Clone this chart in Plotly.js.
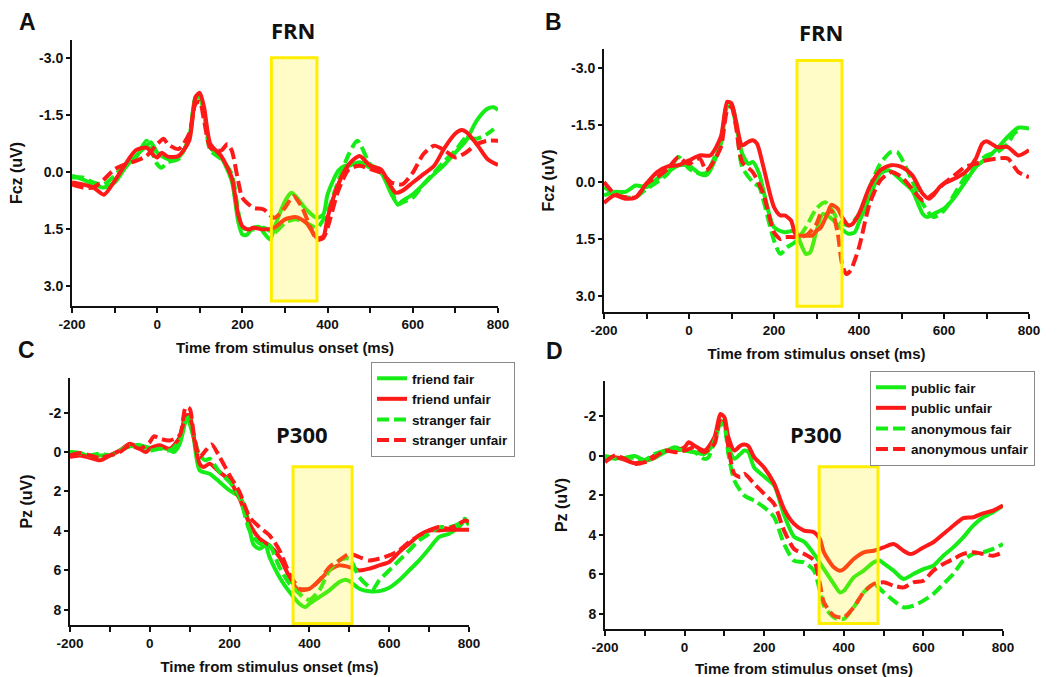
<!DOCTYPE html>
<html>
<head>
<meta charset="utf-8">
<script src="https://cdn.plot.ly/plotly-3.0.1.min.js"></script>
<style>html,body{margin:0;padding:0;background:#fff;}#chart{width:1061px;height:677px;}</style>
</head>
<body>
<div id="chart"></div>
<script>
// ---------- Panel A (Fcz, friend / stranger) ----------
const A_ff_t = [-200,-175,-150,-125,-100,-75,-50,-25,-15,0,25,50,75,90,100,110,125,150,175,190,200,210,225,240,250,265,275,300,315,325,350,375,390,400,425,440,450,475,500,525,550,565,575,600,625,650,675,700,725,750,775,790,800];
const A_ff_v = [0.1,0.2,0.33,0.41,0.28,-0.11,-0.42,-0.69,-0.78,-0.51,-0.34,-0.38,-0.87,-1.97,-2.0,-1.6,-0.64,-0.38,0.24,1.3,1.65,1.66,1.47,1.45,1.6,1.78,1.47,0.77,0.55,0.64,0.99,1.21,1.12,0.59,-0.03,-0.16,-0.16,-0.25,-0.11,0.02,0.59,0.86,0.77,0.59,0.33,0.06,-0.2,-0.51,-0.82,-1.35,-1.66,-1.7,-1.63];
const A_fu_t = [-200,-175,-150,-125,-100,-75,-50,-25,-10,0,10,25,50,75,90,100,110,125,150,175,190,200,215,225,250,275,300,325,350,375,390,400,425,450,475,500,525,550,560,575,600,625,650,675,700,715,725,750,775,800];
const A_fu_v = [0.28,0.33,0.41,0.6,0.24,-0.2,-0.57,-0.64,-0.45,-0.38,-0.5,-0.4,-0.42,-0.82,-1.97,-2.08,-1.7,-0.73,-0.42,0.15,1.12,1.43,1.52,1.47,1.52,1.47,1.25,1.19,1.34,1.74,1.7,1.2,0.33,-0.2,-0.42,-0.16,-0.07,0.41,0.55,0.5,0.28,0.06,-0.16,-0.64,-1.01,-1.1,-1.05,-0.73,-0.34,-0.18];
const A_sf_t = [-200,-175,-150,-125,-100,-75,-50,-25,0,10,25,50,75,90,100,110,125,150,175,190,200,225,250,275,300,325,350,375,400,425,450,470,500,525,550,565,575,600,625,650,675,700,725,750,775,790];
const A_sf_v = [0.15,0.15,0.28,0.33,0.1,-0.2,-0.38,-0.82,-0.2,-0.11,-0.25,-0.34,-0.9,-1.92,-1.97,-1.53,-0.56,-0.34,0.06,1.03,1.47,1.52,1.47,1.6,1.34,1.25,1.34,1.47,1.03,0.24,-0.47,-0.82,-0.2,-0.03,0.5,0.86,0.81,0.68,0.33,0.02,-0.29,-0.56,-0.9,-0.87,-1.0,-1.13];
const A_su_t = [-200,-175,-150,-125,-100,-75,-50,-25,0,15,25,50,75,90,100,110,125,150,165,175,190,200,225,250,275,300,320,340,360,375,390,400,425,450,475,500,525,550,575,600,625,650,675,700,725,750,775,800];
const A_su_v = [0.33,0.41,0.41,0.2,-0.07,-0.2,-0.29,-0.42,-0.73,-0.87,-0.73,-0.6,-1.0,-1.79,-1.85,-1.35,-0.64,-0.56,-0.73,-0.56,0.24,0.68,0.94,0.99,1.21,0.94,0.64,0.94,1.47,1.78,1.74,1.47,0.5,-0.07,-0.16,-0.07,0.02,0.28,0.33,0.02,-0.47,-0.69,-0.56,-0.38,-0.51,-0.73,-0.82,-0.82];

// ---------- Panel B (Fcz, public / anonymous) ----------
const B_pf_t = [-200,-175,-150,-125,-100,-75,-50,-25,0,10,25,40,50,75,90,100,110,125,140,150,165,175,200,225,250,260,275,285,300,315,325,340,350,375,390,400,425,450,470,500,525,550,560,575,600,625,650,675,700,725,750,775,800];
const B_pf_v = [0.35,0.26,0.26,0.09,0.13,-0.09,-0.26,-0.44,-0.44,-0.35,-0.22,-0.18,-0.31,-1.01,-1.98,-1.98,-1.54,-0.75,-0.48,-0.53,-0.22,0.22,1.19,1.32,1.28,1.54,1.89,1.85,1.28,0.84,0.88,1.01,1.14,1.36,1.32,1.06,0.4,-0.22,-0.31,-0.04,0.22,0.84,0.92,0.84,0.7,0.4,0.0,-0.4,-0.62,-0.88,-1.19,-1.43,-1.41];
const B_pu_t = [-200,-175,-150,-125,-100,-75,-50,-25,0,25,50,75,90,100,110,125,140,150,160,175,200,215,225,240,250,260,275,290,300,310,325,335,350,360,375,385,400,425,450,475,500,525,550,565,575,590,600,625,650,675,690,700,725,750,775,800];
const B_pu_v = [0.55,0.35,0.44,0.4,0.04,-0.26,-0.41,-0.44,-0.57,-0.7,-0.7,-1.19,-2.11,-2.07,-1.63,-0.97,-1.06,-1.1,-1.01,-0.4,0.66,0.88,0.88,1.01,1.36,1.41,1.41,1.41,1.28,1.2,0.85,0.6,0.7,0.92,1.14,1.1,0.84,0.13,-0.31,-0.44,-0.4,-0.18,0.31,0.44,0.35,0.13,0.04,-0.09,-0.26,-0.62,-1.01,-1.07,-0.92,-0.92,-0.7,-0.84];
const B_af_t = [-200,-175,-150,-125,-100,-75,-50,-25,0,25,40,50,75,90,100,110,125,150,165,175,200,215,230,250,275,300,320,340,350,375,400,425,450,475,490,500,525,550,575,600,625,650,675,700,725,750,765,775];
const B_af_v = [0.13,0.31,0.4,0.4,0.18,0.0,-0.22,-0.66,-0.35,-0.22,-0.24,-0.4,-1.1,-2.02,-2.02,-1.63,-0.4,0.0,0.13,0.48,1.54,1.89,1.72,1.58,1.19,0.7,0.53,0.79,1.01,1.14,0.84,0.13,-0.48,-0.79,-0.79,-0.62,-0.04,0.57,0.92,0.75,0.31,-0.13,-0.44,-0.7,-0.79,-1.01,-1.28,-1.36];
const B_au_t = [-200,-175,-150,-125,-100,-75,-50,-25,-10,0,25,40,50,75,90,100,110,125,150,175,200,215,225,250,275,300,310,320,335,350,360,370,380,400,425,450,475,500,525,550,575,600,625,650,675,700,725,750,775,800];
const B_au_v = [0.0,0.31,0.4,0.4,0.04,-0.13,-0.35,-0.66,-0.53,-0.48,-0.62,-0.31,-0.4,-0.92,-1.89,-1.98,-1.5,-0.53,-0.26,0.31,1.32,1.5,1.45,1.45,1.41,1.1,0.84,0.88,0.75,1.36,2.15,2.42,2.33,1.72,0.57,-0.04,-0.26,-0.13,0.18,0.48,0.31,0.04,-0.18,-0.4,-0.48,-0.57,-0.62,-0.62,-0.26,-0.13];

// ---------- Panel C (Pz, friend / stranger) ----------
const C_ff_t = [-200,-175,-150,-125,-100,-75,-50,-25,0,25,50,60,75,90,95,100,110,125,150,175,200,225,240,250,260,275,290,300,325,350,375,390,400,425,450,475,490,500,525,550,575,600,625,650,675,700,725,750,775,790,800];
const C_ff_v = [0.0,0.05,0.22,0.17,0.17,-0.08,-0.29,-0.34,-0.22,-0.22,-0.12,0.0,-0.42,-1.61,-1.78,-1.44,-0.7,0.93,1.1,1.52,1.95,2.28,2.9,3.9,4.7,4.91,4.74,5.33,6.35,7.1,7.7,7.87,7.7,7.36,7.02,6.6,6.48,6.55,6.94,7.07,7.06,6.89,6.51,6.01,5.5,4.91,4.31,4.15,3.81,3.47,3.72];
const C_fu_t = [-200,-175,-150,-125,-100,-75,-50,-25,-10,0,25,50,75,90,100,110,125,135,150,175,200,225,250,275,300,325,350,365,375,400,425,450,475,500,525,550,575,600,625,650,675,700,725,750,775,800];
const C_fu_v = [0.25,0.17,0.29,0.42,0.17,-0.08,-0.42,-0.17,0.0,-0.17,-0.34,-0.17,-0.76,-1.86,-1.86,-0.8,0.59,0.76,0.59,1.02,1.44,2.37,3.64,4.4,4.74,5.33,6.35,6.85,7.02,6.94,6.51,6.01,5.75,5.84,6.01,5.92,5.75,5.58,5.08,4.65,4.23,3.98,3.98,3.94,3.94,3.94];
const C_sf_t = [-200,-175,-150,-125,-100,-75,-50,-25,0,25,50,75,90,100,110,125,140,150,175,200,225,250,275,300,325,350,375,390,400,425,450,475,500,525,550,560,575,600,625,650,675,700,725,750,775,790,800];
const C_sf_v = [0.0,0.08,0.17,0.08,0.17,-0.08,-0.34,-0.34,-0.08,-0.17,-0.08,-0.59,-1.61,-1.78,-0.8,0.17,0.42,0.34,1.02,1.52,2.28,3.98,4.65,4.74,5.84,6.68,7.19,7.44,7.5,7.02,6.01,5.5,5.41,6.35,6.85,6.94,6.51,6.01,5.5,4.99,4.48,4.15,3.81,3.81,3.64,3.38,3.67];
const C_su_t = [-200,-175,-150,-125,-100,-75,-50,-25,0,10,25,50,75,90,100,110,125,140,155,175,200,225,250,275,300,325,350,365,375,400,425,450,475,500,525,550,575,600,625,650,675,700,725,750,775,790,800];
const C_su_v = [0.17,0.05,0.17,0.29,0.17,0.0,-0.34,-0.17,-0.51,-0.8,-0.68,-0.59,-0.85,-2.28,-2.2,-0.93,0.25,-0.08,-0.38,0.25,1.18,2.03,3.3,3.81,4.23,4.99,6.18,6.68,6.94,6.94,6.51,5.84,5.5,5.16,5.33,5.5,5.41,5.25,4.99,4.57,4.23,3.98,3.81,3.89,3.64,3.47,3.55];

// ---------- Panel D (Pz, public / anonymous) ----------
const D_pf_t = [-200,-175,-150,-125,-100,-75,-50,-25,0,25,50,75,90,100,110,125,140,150,160,175,200,225,250,275,300,325,350,375,390,400,425,450,475,490,500,525,550,575,600,625,650,675,700,725,750,775,800];
const D_pf_v = [0.0,0.1,0.1,0.0,0.24,0.1,-0.19,-0.44,-0.27,-0.19,-0.1,-0.69,-1.79,-1.62,-0.52,0.15,-0.1,-0.27,-0.2,0.6,1.05,1.5,3.0,4.1,4.35,4.97,5.74,6.5,6.92,6.84,6.16,5.82,5.4,5.31,5.45,5.82,6.24,5.99,5.74,5.57,5.06,4.64,4.13,3.54,3.11,2.86,2.52];
const D_pu_t = [-200,-175,-150,-125,-100,-75,-50,-25,0,10,25,50,75,90,100,110,125,140,150,160,175,200,225,250,275,300,325,340,350,375,390,400,425,450,475,500,525,550,565,575,600,625,650,675,700,725,750,775,800];
const D_pu_v = [0.24,0.07,0.2,0.37,0.24,-0.02,-0.27,-0.27,-0.44,-0.69,-0.52,-0.27,-0.95,-2.13,-1.96,-0.95,-0.27,-0.52,-0.58,-0.5,0.07,0.6,1.4,2.7,3.45,3.79,3.87,4.21,4.89,5.65,5.82,5.74,5.23,4.89,4.81,4.64,4.47,4.81,4.97,4.94,4.64,4.38,3.96,3.54,3.15,3.11,2.91,2.77,2.52];
const D_af_t = [-200,-175,-150,-125,-100,-75,-50,-25,0,25,50,60,75,90,100,110,125,150,175,200,225,250,275,300,325,340,350,375,400,425,450,475,500,525,550,575,600,625,650,675,700,725,750,775,800];
const D_af_v = [0.03,0.15,0.1,0.1,0.2,-0.1,-0.27,-0.36,-0.27,-0.19,0.15,0.07,-0.78,-1.62,-1.46,-0.1,1.25,2.01,2.27,2.61,3.11,4.47,5.31,5.4,5.82,6.84,7.6,8.19,8.27,7.68,6.92,6.5,6.92,7.34,7.68,7.6,7.34,7.0,6.5,5.99,5.31,4.97,4.89,4.72,4.47];
const D_au_t = [-200,-175,-150,-125,-100,-75,-50,-25,0,25,50,75,90,100,110,125,140,150,175,200,225,250,275,300,325,340,350,375,400,425,450,475,500,525,550,575,600,625,650,675,700,725,750,775,800];
const D_au_v = [0.32,-0.02,0.15,0.41,0.32,0.07,-0.27,-0.19,-0.27,-0.44,-0.19,-0.61,-1.96,-1.79,-0.44,0.91,1.08,0.91,1.42,1.93,2.44,3.79,4.72,4.97,5.31,6.5,7.43,8.1,8.19,7.68,6.92,6.5,6.41,6.58,6.67,6.41,6.33,5.82,5.48,5.23,4.97,4.89,4.97,5.06,4.89];

// ---------- labels & analysis windows ----------
const legendC = ['friend fair','friend unfair','stranger fair','stranger unfair'];
const legendD = ['public fair','public unfair','anonymous fair','anonymous unfair'];
const xTickVals = [-200,-100,0,100,200,300,400,500,600,700,800];
const xTickText = ['-200','','0','','200','','400','','600','','800'];
const fcTickVals = [-3,-1.5,0,1.5,3];
const fcTickText = ['-3.0','-1.5','0.0','1.5','3.0'];
const pzTickVals = [-2,0,2,4,6,8];
const pzTickText = ['-2','0','2','4','6','8'];
const winA = [268,375,-3.0,3.4];
const winB = [254,360,-3.2,3.27];
const winC = [359,507,0.75,8.7];
const winD = [338,486,0.55,8.5];

const GREEN = '#16ec16', RED = '#ff1a1a';
const W = 1061, H = 677;

function tr(t, v, name, color, dashed, n, legend, show) {
  return {
    x: t, y: v, name: name, type: 'scatter', mode: 'lines',
    xaxis: n === 1 ? 'x' : 'x' + n, yaxis: n === 1 ? 'y' : 'y' + n,
    line: {color: color, width: 4, shape: 'spline', smoothing: 0.7, dash: dashed ? '12px,5px' : 'solid'},
    showlegend: show, legend: legend, hoverinfo: 'skip'
  };
}

const data = [
  tr(A_ff_t, A_ff_v, legendC[0], GREEN, false, 1, 'legend', false),
  tr(A_sf_t, A_sf_v, legendC[2], GREEN, true, 1, 'legend', false),
  tr(A_su_t, A_su_v, legendC[3], RED, true, 1, 'legend', false),
  tr(A_fu_t, A_fu_v, legendC[1], RED, false, 1, 'legend', false),

  tr(B_pf_t, B_pf_v, legendD[0], GREEN, false, 2, 'legend2', false),
  tr(B_af_t, B_af_v, legendD[2], GREEN, true, 2, 'legend2', false),
  tr(B_au_t, B_au_v, legendD[3], RED, true, 2, 'legend2', false),
  tr(B_pu_t, B_pu_v, legendD[1], RED, false, 2, 'legend2', false),

  tr(C_ff_t, C_ff_v, legendC[0], GREEN, false, 3, 'legend', true),
  tr(C_fu_t, C_fu_v, legendC[1], RED, false, 3, 'legend', true),
  tr(C_sf_t, C_sf_v, legendC[2], GREEN, true, 3, 'legend', true),
  tr(C_su_t, C_su_v, legendC[3], RED, true, 3, 'legend', true),

  tr(D_pf_t, D_pf_v, legendD[0], GREEN, false, 4, 'legend2', true),
  tr(D_pu_t, D_pu_v, legendD[1], RED, false, 4, 'legend2', true),
  tr(D_af_t, D_af_v, legendD[2], GREEN, true, 4, 'legend2', true),
  tr(D_au_t, D_au_v, legendD[3], RED, true, 4, 'legend2', true)
];

const FONT = 'Liberation Sans, Arial, sans-serif';
function xax(x0px, x1px, yName) {
  return {
    domain: [x0px / W, x1px / W], anchor: yName, range: [-200, 800],
    showline: true, linecolor: '#111', linewidth: 2, showgrid: false, zeroline: false,
    ticks: 'outside', ticklen: 5, tickwidth: 2, tickcolor: '#111',
    tickmode: 'array', tickvals: xTickVals, ticktext: xTickText,
    tickfont: {family: FONT, size: 13.5, color: '#111', weight: 'bold'},
    title: {text: 'Time from stimulus onset (ms)', standoff: 11,
            font: {family: FONT, size: 15, color: '#111', weight: 'bold'}}
  };
}
function yax(topPx, botPx, xName, range, vals, text, title) {
  return {
    domain: [1 - botPx / H, 1 - topPx / H], anchor: xName, range: range,
    showline: true, linecolor: '#111', linewidth: 2, showgrid: false, zeroline: false,
    ticks: 'outside', ticklen: 4, tickwidth: 2, tickcolor: '#111',
    tickmode: 'array', tickvals: vals, ticktext: text,
    tickfont: {family: FONT, size: 14, color: '#111', weight: 'bold'},
    title: {text: title, standoff: 12, font: {family: FONT, size: 16, color: '#111', weight: 'bold'}}
  };
}
function win(w, n) {
  return {type: 'rect', xref: n === 1 ? 'x' : 'x' + n, yref: n === 1 ? 'y' : 'y' + n,
          x0: w[0], x1: w[1], y0: w[2], y1: w[3], layer: 'above',
          fillcolor: 'rgba(255,242,0,0.22)', line: {color: '#ffee00', width: 3}};
}
function ann(text, xpx, ypx, size, fam) {
  return {text: text, xref: 'paper', yref: 'paper', x: xpx / W, y: 1 - ypx / H,
          xanchor: 'center', yanchor: 'middle', showarrow: false,
          font: {family: fam, size: size, color: '#111', weight: 'bold'}};
}
function leg(xpx, ypx) {
  return {x: xpx / W, y: 1 - ypx / H, xanchor: 'left', yanchor: 'top',
          bgcolor: '#ffffff', bordercolor: '#8a8a8a', borderwidth: 1, tracegroupgap: 0,
          font: {family: FONT, size: 13.5, color: '#111', weight: 'bold'}};
}

const layout = {
  width: W, height: H, autosize: false,
  margin: {l: 0, r: 0, t: 0, b: 0},
  paper_bgcolor: '#ffffff', plot_bgcolor: 'rgba(0,0,0,0)',
  font: {family: FONT, color: '#111'},
  xaxis: xax(72, 498, 'y'),
  yaxis: yax(40, 306, 'x', [3.53, -3.47], fcTickVals, fcTickText, 'Fcz (uV)'),
  xaxis2: xax(604, 1029, 'y2'),
  yaxis2: yax(49, 312, 'x2', [3.42, -3.5], fcTickVals, fcTickText, 'Fcz (uV)'),
  xaxis3: xax(70, 469, 'y3'),
  yaxis3: yax(378, 625, 'x3', [8.78, -3.76], pzTickVals, pzTickText, 'Pz (uV)'),
  xaxis4: xax(605, 1003, 'y4'),
  yaxis4: yax(381, 629, 'x4', [8.78, -3.8], pzTickVals, pzTickText, 'Pz (uV)'),
  shapes: [win(winA, 1), win(winB, 2), win(winC, 3), win(winD, 4)],
  legend: leg(371, 362),
  legend2: leg(870, 371),
  annotations: [
    ann('A', 27, 22, 23, FONT), ann('B', 553, 22, 23, FONT),
    ann('C', 26, 350, 23, FONT), ann('D', 554, 351, 23, FONT),
    ann('FRN', 293, 30, 22, 'Open Sans, sans-serif'),
    ann('FRN', 821, 32, 22, 'Open Sans, sans-serif'),
    ann('P300', 302, 434, 22, 'Open Sans, sans-serif'),
    ann('P300', 816, 434, 22, 'Open Sans, sans-serif')
  ]
};

Plotly.newPlot('chart', data, layout, {displayModeBar: false, staticPlot: true});
</script>
</body>
</html>
